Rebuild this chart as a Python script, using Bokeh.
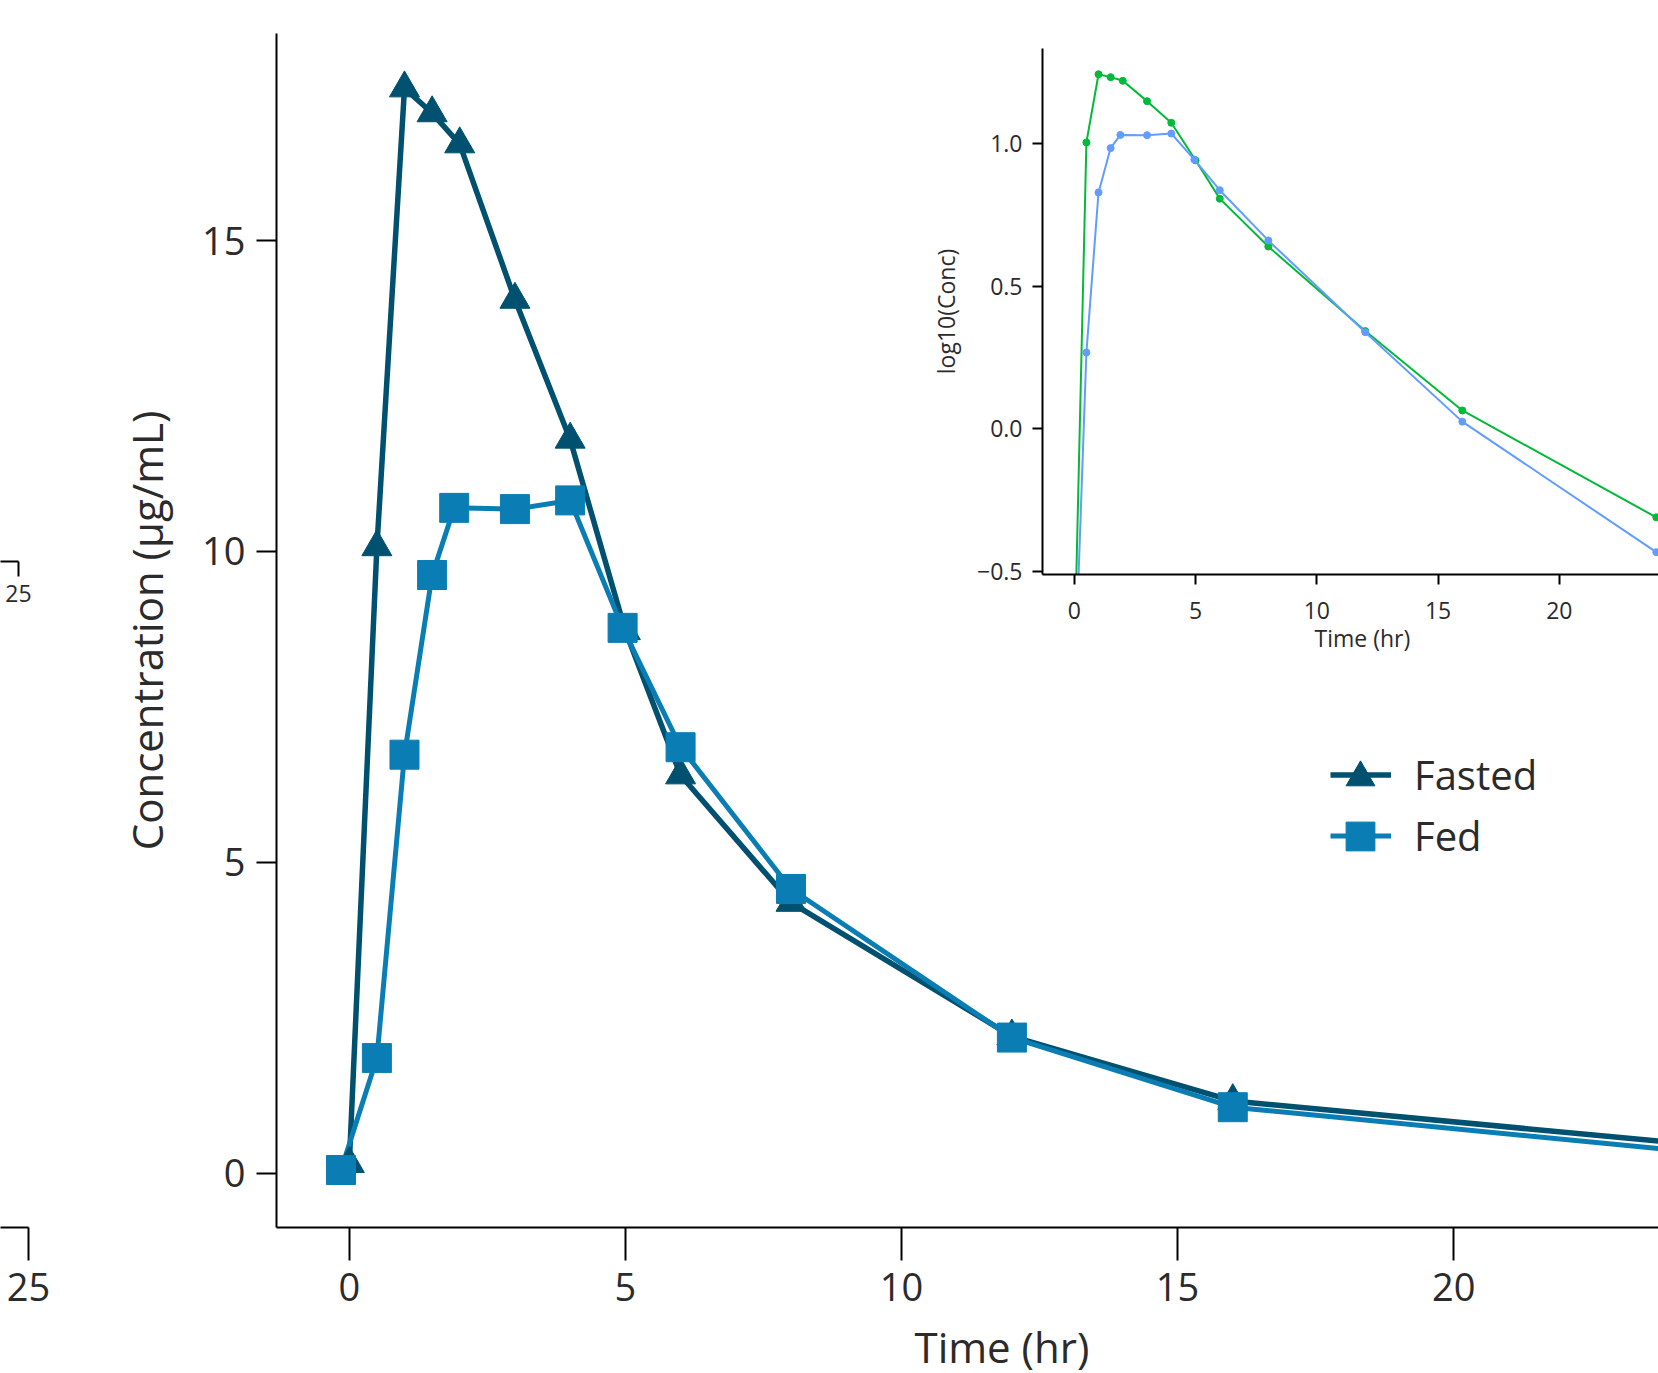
import math
from bokeh.plotting import figure
from bokeh.models import (GridBox, Column, Legend, LegendItem, FixedTicker, Range1d, Title)
from bokeh.embed import file_html
from bokeh.resources import INLINE

try:
    from bokeh.models import GlobalInlineStyleSheet
    SHEETS = [GlobalInlineStyleSheet(css="html { overflow: hidden; }")]
except Exception:
    SHEETS = []

# ---------------- data ----------------
time_fasted = [0, 0.5, 1, 1.5, 2, 3, 4, 5, 6, 8, 12, 16, 24]
conc_fasted = [0.15, 10.07, 17.45, 17.05, 16.55, 14.05, 11.8, 8.72, 6.4, 4.35, 2.2, 1.16, 0.49]
time_fed = [-0.15, 0.5, 1, 1.5, 1.9, 3, 4, 4.95, 6, 8, 12, 16, 24]
conc_fed = [0.05, 1.85, 6.73, 9.62, 10.7, 10.68, 10.82, 8.77, 6.85, 4.57, 2.18, 1.06, 0.37]
groups = ["Fasted", "Fed"]

main_x_ticks = [0, 5, 10, 15, 20]
main_y_ticks = [0, 5, 10, 15]
inset_x_ticks = [0, 5, 10, 15, 20]
inset_y_ticks = [-0.5, 0, 0.5, 1.0]
inset_y_labels = ["\u22120.5", "0.0", "0.5", "1.0"]
stub_ticks = [25]

log_fasted = [math.log10(v) for v in conc_fasted]
log_fed = [math.log10(v) for v in conc_fed]

# ---------------- style ----------------
FONT = "Open Sans"
TXT = "#2B2B2B"
C_FAST = "#00506F"
C_FED = "#0A7EB4"
C_FAST_IN = "#00BA38"
C_FED_IN = "#619CFF"


def clean(p):
    p.grid.visible = False
    p.outline_line_color = None
    p.background_fill_color = "white"
    p.border_fill_color = "white"


def style_axis(ax, ticks, font_px, tick_out, standoff, overrides=None):
    ax.ticker = FixedTicker(ticks=ticks)
    ax.axis_line_color = "black"
    ax.axis_line_width = 2
    ax.major_tick_line_color = "black"
    ax.major_tick_line_width = 2
    ax.major_tick_out = tick_out
    ax.major_tick_in = 0
    ax.minor_tick_out = 0
    ax.minor_tick_in = 0
    ax.major_label_text_font = FONT
    ax.major_label_text_font_size = f"{font_px}px"
    ax.major_label_text_color = TXT
    ax.major_label_standoff = standoff
    ax.axis_label_text_font = FONT
    ax.axis_label_text_font_style = "normal"
    ax.axis_label_text_color = TXT
    if overrides:
        ax.major_label_overrides = overrides


# ---------------- main plot ----------------
# the below panel (tick labels + title) needs ~160px; the figure runs a little
# past the bottom of the window so that the frame bottom sits where it should
main = figure(width=1598, height=1387,
              x_range=Range1d(-1.318, 23.71), y_range=Range1d(-0.875, 18.33),
              output_backend="svg", toolbar_location=None,
              min_border_left=216, min_border_right=0,
              min_border_top=33, min_border_bottom=160)
clean(main)
style_axis(main.xaxis[0], main_x_ticks, 38, 33, 12)
style_axis(main.yaxis[0], main_y_ticks, 38, 20, 11)
main.yaxis[0].axis_label = "Concentration (\u00b5g/mL)"
main.yaxis[0].axis_label_text_font_size = "42px"
main.yaxis[0].axis_label_standoff = 24

l_fast = main.line(time_fasted, conc_fasted, line_color=C_FAST, line_width=5.5, line_join="round")
l_fed = main.line(time_fed, conc_fed, line_color=C_FED, line_width=5, line_join="round")
s_fast = main.scatter(time_fasted, conc_fasted, marker="triangle", size=30,
                      fill_color=C_FAST, line_color=C_FAST)
s_fed = main.scatter(time_fed, conc_fed, marker="square", size=29,
                     fill_color=C_FED, line_color=C_FED)

main.add_layout(Title(text="Time (hr)", align="left", offset=638, standoff=25,
                      text_font=FONT, text_font_size="42px", text_font_style="normal",
                      text_color=TXT), "below")

leg_lines = Legend(items=[LegendItem(label=groups[0], renderers=[l_fast]),
                          LegendItem(label=groups[1], renderers=[l_fed])],
                   location=(1054, 364), orientation="vertical",
                   glyph_width=61, glyph_height=45, label_height=45,
                   label_standoff=23, spacing=6, padding=0, margin=0,
                   border_line_color=None, background_fill_alpha=0,
                   label_text_font=FONT, label_text_font_size="40px",
                   label_text_color=TXT)
main.add_layout(leg_lines)
leg_m1 = Legend(items=[LegendItem(label=" ", renderers=[s_fast])],
                location=(1048, 414), glyph_width=72, glyph_height=72,
                label_standoff=0, padding=0, margin=0, border_line_color=None,
                background_fill_alpha=0, label_text_font_size="2px")
leg_m2 = Legend(items=[LegendItem(label=" ", renderers=[s_fed])],
                location=(1048, 355), glyph_width=72, glyph_height=72,
                label_standoff=0, padding=0, margin=0, border_line_color=None,
                background_fill_alpha=0, label_text_font_size="2px")
main.add_layout(leg_m1)
main.add_layout(leg_m2)

# ---------------- inset ----------------
inset = figure(width=758, height=668,
               x_range=Range1d(-1.31, 24.09), y_range=Range1d(-0.51, 1.332),
               output_backend="svg", toolbar_location=None,
               min_border_left=142, min_border_right=0,
               min_border_top=48, min_border_bottom=94)
clean(inset)
inset.background_fill_alpha = 0
inset.border_fill_alpha = 0
style_axis(inset.xaxis[0], inset_x_ticks, 23, 10, 17)
style_axis(inset.yaxis[0], inset_y_ticks, 23, 10, 10,
           overrides=dict(zip(inset_y_ticks, inset_y_labels)))
inset.yaxis[0].axis_label = "log10(Conc)"
inset.yaxis[0].axis_label_text_font_size = "23px"
inset.yaxis[0].axis_label_standoff = 12

inset.line(time_fasted, log_fasted, line_color=C_FAST_IN, line_width=2)
inset.scatter(time_fasted, log_fasted, marker="circle", size=7,
              fill_color=C_FAST_IN, line_color=C_FAST_IN)
inset.line(time_fed, log_fed, line_color=C_FED_IN, line_width=2)
inset.scatter(time_fed, log_fed, marker="circle", size=7,
              fill_color=C_FED_IN, line_color=C_FED_IN)
inset.add_layout(Title(text="Time (hr)", align="left", offset=272, standoff=-3,
                       text_font=FONT, text_font_size="23px", text_font_style="normal",
                       text_color=TXT), "below")

# ---------------- stubs of the neighbouring panel ----------------
stub_small = figure(width=60, height=668, x_range=Range1d(24.6, 25.0001),
                    y_range=Range1d(0, 1), y_axis_location=None,
                    output_backend="svg", toolbar_location=None,
                    min_border_left=0, min_border_right=42,
                    min_border_top=0, min_border_bottom=107)
clean(stub_small)
style_axis(stub_small.xaxis[0], stub_ticks, 23, 15, 8)

stub_big = figure(width=60, height=705, x_range=Range1d(24.64, 25.0001),
                  y_range=Range1d(0, 1), y_axis_location=None,
                  output_backend="svg", toolbar_location=None,
                  min_border_left=0, min_border_right=32,
                  min_border_top=0, min_border_bottom=146)
clean(stub_big)
style_axis(stub_big.xaxis[0], stub_ticks, 38, 33, 12)

# each figure in its own box so the grid does not align their borders
grid = GridBox(children=[(Column(children=[stub_small]), 0, 0),
                         (Column(children=[stub_big]), 1, 0),
                         (Column(children=[main]), 0, 1, 2, 2),
                         (Column(children=[inset]), 0, 2)],
               rows=["668px", "705px"], cols=["60px", "840px", "758px"],
               stylesheets=SHEETS)

open("out.html", "w").write(file_html(grid, INLINE))
